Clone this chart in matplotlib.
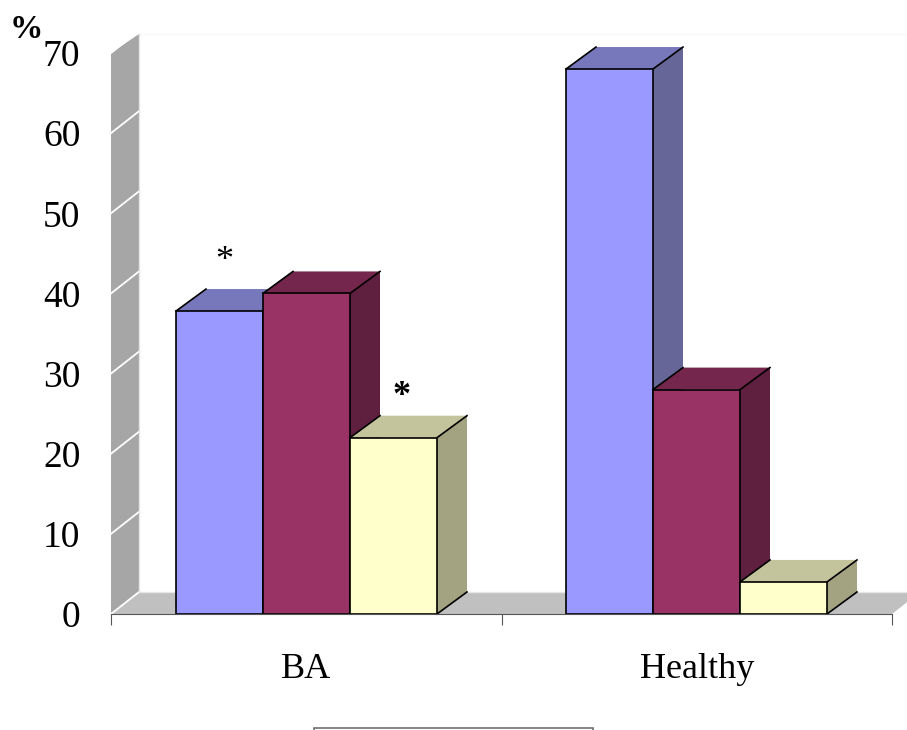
import matplotlib
matplotlib.use('Agg')
import matplotlib.pyplot as plt
from matplotlib.patches import Rectangle

plt.rcParams['font.family'] = ['Liberation Serif', 'DejaVu Serif']

categories = ['BA', 'Healthy']
series_a = [37.8, 68]
series_b = [40, 28]
series_c = [22, 4]
yticks = [0, 10, 20, 30, 40, 50, 60, 70]
star_labels = [('*', 0.289, 44.0, 'normal'), ('*', 0.743, 27.2, 'bold')]

W, H = 907, 730
fig = plt.figure(figsize=(W / 100, H / 100), dpi=100)
ax = fig.add_axes([111 / W, (H - 614) / H, (892 - 111) / W, (614 - 53) / H])
ax.set_xlim(0, 2)
ax.set_ylim(0, 70)

# depth of the fake 3d, in data units
px_x = 2 / (892 - 111)
px_y = 70 / (614 - 53)
wall_dx, wall_dy = 28 * px_x, 19 * px_y
floor_dy = 22 * px_y
bar_dx, bar_dy = 30 * px_x, 22 * px_y
bar_w = 87 * px_x
starts = [(176 - 111) * px_x, (566 - 111) * px_x]

# wall and floor
ax.fill([0, wall_dx, wall_dx, 0], [0, floor_dy, 70 + wall_dy, 70], color='#a6a6a6', lw=0, clip_on=False, zorder=1)
ax.fill([0, wall_dx, 2 + wall_dx, 2], [0, floor_dy, floor_dy, 0], color='#c0c0c0', lw=0, clip_on=False, zorder=1)
ax.plot([wall_dx, 2 + wall_dx], [70 + wall_dy, 70 + wall_dy], color='#f8f8f8', lw=1, clip_on=False, zorder=1)
for t in yticks:
    ax.plot([0, wall_dx], [t, t + floor_dy], color='white', lw=1.3, clip_on=False, zorder=2)
ax.plot([wall_dx, wall_dx], [floor_dy, 70 + wall_dy], color='#e6e6e6', lw=1, clip_on=False, zorder=2)
ax.plot([wall_dx, 2 + wall_dx], [floor_dy, floor_dy], color='#e6e6e6', lw=1, clip_on=False, zorder=2)

colors = [('#9999ff', '#7777bb', '#666699'),
          ('#993366', '#74264c', '#5f1f3f'),
          ('#ffffcc', '#c4c49c', '#a3a382')]
z = 3
for g in range(len(categories)):
    vals = [series_a[g], series_b[g], series_c[g]]
    for i, v in enumerate(vals):
        x0 = starts[g] + i * bar_w
        x1 = x0 + bar_w
        front, top, side = colors[i]
        ax.fill([x0, x0 + bar_dx, x1 + bar_dx, x1], [v, v + bar_dy, v + bar_dy, v],
                facecolor=top, edgecolor='none', clip_on=False, zorder=z)
        ax.fill([x1, x1 + bar_dx, x1 + bar_dx, x1], [0, bar_dy, v + bar_dy, v],
                facecolor=side, edgecolor='none', clip_on=False, zorder=z)
        # only the slanted edges are dark
        ax.plot([x0, x0 + bar_dx], [v, v + bar_dy], color='black', lw=1.2, clip_on=False, zorder=z)
        ax.plot([x1, x1 + bar_dx], [v, v + bar_dy], color='black', lw=1.2, clip_on=False, zorder=z)
        ax.plot([x1, x1 + bar_dx], [0, bar_dy], color='black', lw=1.2, clip_on=False, zorder=z)
        ax.bar(x0, v, width=bar_w, align='edge', color=front, edgecolor='black', lw=1.2,
               clip_on=False, zorder=z + 1)
        z += 2

for s in ['top', 'right', 'left']:
    ax.spines[s].set_visible(False)
ax.spines['bottom'].set_color('#555555')
ax.spines['bottom'].set_linewidth(0.8)
ax.spines['bottom'].set_zorder(30)

ax.set_yticks(yticks)
ax.tick_params(axis='y', length=0, pad=22, labelsize=27)
ax.set_xticks([0, 1, 2])
ax.set_xticklabels([])
ax.tick_params(axis='x', which='major', length=8, width=0.8, color='#555555')
ax.set_xticks([0.5, 1.5], minor=True)
ax.set_xticklabels(categories, minor=True, fontsize=26)
ax.tick_params(axis='x', which='minor', length=0, pad=28)

for txt, xv, yv, w in star_labels:
    ax.text(xv, yv, txt, fontsize=26, fontweight=w, ha='center', va='center', zorder=40)

fig.text(26 / W, (H - 29) / H, '%', fontsize=24, fontweight='bold', ha='center', va='center')
# empty legend box, cut by the bottom edge
fig.add_artist(Rectangle((314 / W, -0.01), (593 - 314) / W, (H - 728) / H + 0.01, transform=fig.transFigure,
                         facecolor='white', edgecolor='#707070', lw=1.2))

fig.savefig('out.png', dpi=100)
